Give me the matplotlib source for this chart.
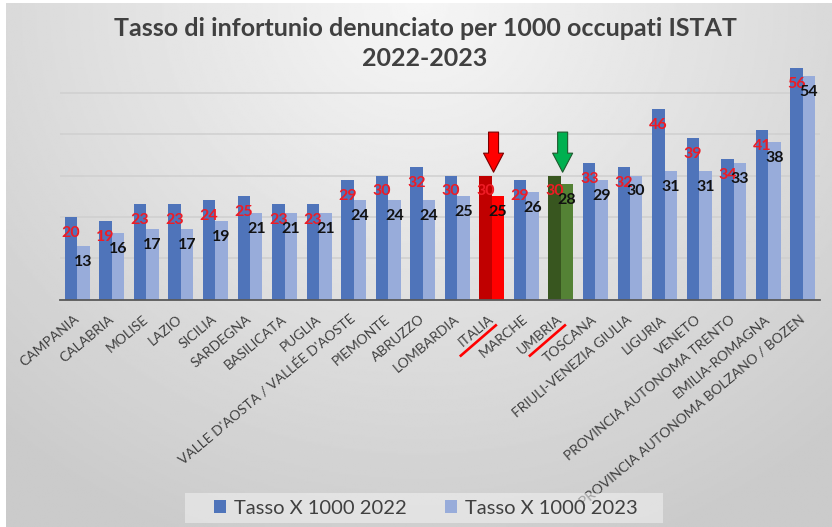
import numpy as np
import matplotlib
matplotlib.use('Agg')
import matplotlib.pyplot as plt
from matplotlib.lines import Line2D
from matplotlib.patches import Patch, Rectangle
from matplotlib.transforms import IdentityTransform

categories = ["CAMPANIA", "CALABRIA", "MOLISE", "LAZIO", "SICILIA", "SARDEGNA",
              "BASILICATA", "PUGLIA", "VALLE D'AOSTA / VALLÉE D'AOSTE", "PIEMONTE",
              "ABRUZZO", "LOMBARDIA", "ITALIA", "MARCHE", "UMBRIA", "TOSCANA",
              "FRIULI-VENEZIA GIULIA", "LIGURIA", "VENETO", "PROVINCIA AUTONOMA TRENTO",
              "EMILIA-ROMAGNA", "PROVINCIA AUTONOMA BOLZANO / BOZEN"]
tasso_2022 = [20, 19, 23, 23, 24, 25, 23, 23, 29, 30, 32, 30, 30, 29, 30, 33, 32, 46, 39, 34, 41, 56]
tasso_2023 = [13, 16, 17, 17, 19, 21, 21, 21, 24, 24, 24, 25, 25, 26, 28, 29, 30, 31, 31, 33, 38, 54]
series_names = ["Tasso X 1000 2022", "Tasso X 1000 2023"]
title_lines = ["Tasso di infortunio denunciato per 1000 occupati ISTAT", "2022-2023"]
highlight = {"ITALIA": ("#C00000", "#FF0000"), "UMBRIA": ("#38561F", "#548235")}
arrows = {"ITALIA": ("#FF0000", "#7A0000"), "UMBRIA": ("#00B050", "#1E5A2E")}
underlined = ["ITALIA", "UMBRIA"]

DARK = "#4F74BA"
LIGHT = "#98ACDA"

plt.rcParams['font.family'] = ['Lato', 'DejaVu Sans']

W_PX, H_PX = 832, 527
fig = plt.figure(figsize=(W_PX / 100, H_PX / 100), dpi=100, facecolor='white')

# gradient background
bg = fig.add_axes([6 / W_PX, 0, 1 - 6 / W_PX, 1 - 3 / H_PX])
bg.axis('off')
yy, xx = np.mgrid[0:1:300j, 0:1:500j]
d = np.sqrt(((xx - 0.5) / 0.75) ** 2 + (yy / 1.1) ** 2)
shade = 0.965 - 0.17 * np.clip(d, 0, 1)
bg.imshow(shade, cmap='gray', vmin=0, vmax=1, aspect='auto', extent=[0, 1, 1, 0])
bg.set_xlim(0, 1)
bg.set_ylim(1, 0)

ax = fig.add_axes([60 / W_PX, 1 - 299.5 / H_PX, 760 / W_PX, 248 / H_PX])
ax.patch.set_alpha(0)

n = len(categories)
x = np.arange(n)
w = 0.36
c1 = [highlight.get(c, (DARK, LIGHT))[0] for c in categories]
c2 = [highlight.get(c, (DARK, LIGHT))[1] for c in categories]
ax.bar(x - w / 2, tasso_2022, w, color=c1, zorder=3)
ax.bar(x + w / 2, tasso_2023, w, color=c2, zorder=3)

for xi, v in zip(x, tasso_2022):
    ax.annotate(f"{v:.0f}", (xi - w / 2, v), xytext=(0, -11.5), textcoords='offset points',
                ha='center', va='center', color='#EE1C25', fontsize=11.5, fontweight='bold', zorder=5)
for xi, v in zip(x, tasso_2023):
    ax.annotate(f"{v:.0f}", (xi + w / 2, v), xytext=(0, -11.5), textcoords='offset points',
                ha='center', va='center', color='#111111', fontsize=11.5, fontweight='bold', zorder=5)

ax.set_xlim(-0.5, n - 0.5)
ax.set_ylim(0, 60)
ax.set_yticks(range(0, 61, 10))
ax.yaxis.grid(True, color='#CFCFCF', lw=1.1)
ax.set_axisbelow(True)
ax.tick_params(axis='y', length=0, labelleft=False)
for s in ['left', 'right', 'top']:
    ax.spines[s].set_visible(False)
ax.spines['bottom'].set_color('#595959')
ax.spines['bottom'].set_linewidth(1.3)
ax.spines['bottom'].set_zorder(4)

ax.set_xticks(x)
ax.set_xticklabels(categories, rotation=40, ha='right', va='center',
                   rotation_mode='anchor', fontsize=10, color='#404040')
ax.tick_params(axis='x', length=0, pad=13)

# arrows above highlighted bars
for name, (fc, ec) in arrows.items():
    i = categories.index(name)
    v = tasso_2022[i]
    ax.annotate('', xy=(i + 0.05, v + 0.8), xytext=(i + 0.05, v + 10.5),
                arrowprops=dict(arrowstyle='simple,head_length=1.37,head_width=1.44,tail_width=0.72',
                                mutation_scale=10, fc=fc, ec=ec, lw=0.8, shrinkA=0, shrinkB=0),
                zorder=6)

# red underline under selected tick labels
for name in underlined:
    i = categories.index(name)
    px, py = ax.transData.transform((i, 0))
    fig.add_artist(Line2D([px - 32, px + 5], [py - 57, py - 25], color='#FF0000', lw=1.9,
                          transform=IdentityTransform(), solid_capstyle='butt'))

# title
fig.text(425 / W_PX, 1 - 28 / H_PX, title_lines[0], ha='center', va='center',
         fontsize=18, fontweight='bold', color='#404040')
fig.text(425 / W_PX, 1 - 58 / H_PX, title_lines[1], ha='center', va='center',
         fontsize=18, fontweight='bold', color='#404040')

# legend box and legend
fig.add_artist(Rectangle((185 / W_PX, 1 - 523 / H_PX), 478 / W_PX, 30 / H_PX,
                         transform=fig.transFigure, facecolor='#F2F2F2', alpha=0.55,
                         edgecolor='none', zorder=1))
handles = [Patch(facecolor=DARK), Patch(facecolor=LIGHT)]
leg = fig.legend(handles, series_names, loc='center', bbox_to_anchor=(426 / W_PX, 1 - 508 / H_PX),
                 ncol=2, frameon=False, fontsize=14.5, handlelength=0.6, handleheight=0.6,
                 columnspacing=1.9, handletextpad=0.4, borderpad=0.3)
for t in leg.get_texts():
    t.set_color('#404040')

fig.savefig('out.png', dpi=100, facecolor='white')
